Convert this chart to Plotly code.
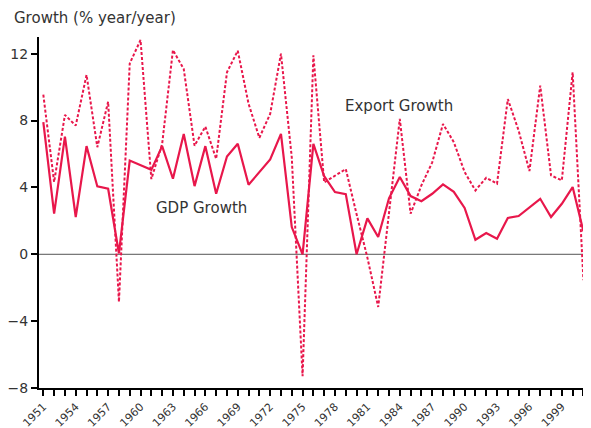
import plotly.graph_objects as go

years = list(range(1951, 2002))
gdp_growth = [7.9, 2.43, 7.04, 2.23, 6.47, 4.06, 3.92, 0.05, 5.61, 5.33,
              5.05, 6.47, 4.52, 7.2, 4.08, 6.47, 3.62, 5.85, 6.61, 4.16,
              4.92, 5.67, 7.2, 1.63, 0.0, 6.6, 4.67, 3.72, 3.6, 0.0,
              2.15, 1.03, 3.35, 4.62, 3.48, 3.18, 3.62, 4.18, 3.74, 2.77,
              0.87, 1.27, 0.93, 2.17, 2.29, 2.83, 3.32, 2.23, 3.02, 4.02,
              1.37]
export_growth = [9.55, 4.32, 8.34, 7.7, 10.73, 6.41, 9.13, -2.85, 11.42, 12.82,
                 4.5, 6.6, 12.22, 11.08, 6.5, 7.64, 5.71, 10.89, 12.18, 9.0,
                 6.97, 8.4, 12.0, 5.8, -7.3, 11.9, 4.3, 4.72, 5.1, 2.4,
                 -0.2, -3.15, 2.6, 8.1, 2.43, 4.12, 5.5, 7.8, 6.71, 4.92,
                 3.82, 4.58, 4.22, 9.29, 7.4, 4.98, 10.09, 4.72, 4.42, 10.89,
                 -1.55]
y_ticks = [-8, -4, 0, 4, 8, 12]

RED = "#E8174B"
FONT = "DejaVu Sans"

# page body has an 8px margin; compensate so the plot lands where the reference has it
W, H = 583, 420
ML, MT, MB = 31, 29, 40
PW, PH = W - ML, H - MT - MB

fig = go.Figure()
fig.add_trace(go.Scatter(x=years, y=export_growth, mode="lines",
                         line=dict(color=RED, width=2, dash="3px,2px"),
                         name="Export Growth"))
fig.add_trace(go.Scatter(x=years, y=gdp_growth, mode="lines",
                         line=dict(color=RED, width=2.2),
                         name="GDP Growth"))

fig.add_shape(type="line", xref="paper", yref="y", x0=0, x1=1, y0=0, y1=0,
              line=dict(color="#555555", width=1), layer="below")

fig.update_layout(
    width=W, height=H,
    margin=dict(l=ML, r=0, t=MT, b=MB),
    paper_bgcolor="white", plot_bgcolor="white",
    showlegend=False,
    font=dict(family=FONT, color="#333333", size=13),
    xaxis=dict(range=[1950.6, 2001.7], tickmode="linear", tick0=1951, dtick=3,
               ticks="outside", ticklen=6, tickwidth=1.5, tickcolor="black",
               tickangle=-45, showgrid=False, zeroline=False, automargin=False,
               showline=True, linecolor="black", linewidth=2,
               tickfont=dict(size=11, color="#333333"),
               minor=dict(dtick=1, tick0=1951, ticks="outside", ticklen=6,
                          tickwidth=1.5, tickcolor="black", showgrid=False)),
    yaxis=dict(range=[-8, 13], tickvals=y_ticks, ticks="outside", ticklen=6,
               tickwidth=1.5, tickcolor="black", showgrid=False, zeroline=False,
               showline=True, linecolor="black", linewidth=2, automargin=False,
               tickfont=dict(size=14, color="#333333")),
)

fig.add_annotation(text="Growth (% year/year)", xref="paper", yref="paper",
                   x=(4 - ML) / PW, y=1 + (MT - 10) / PH, xanchor="left", yanchor="middle",
                   showarrow=False, font=dict(size=15, color="#333333", family=FONT))
fig.add_annotation(text="Export Growth", xref="x", yref="y", x=1983.9, y=8.87,
                   showarrow=False, font=dict(size=15, color="#333333", family=FONT))
fig.add_annotation(text="GDP Growth", xref="x", yref="y", x=1965.65, y=2.75,
                   showarrow=False, font=dict(size=15, color="#333333", family=FONT))

fig.write_html("out.html")
